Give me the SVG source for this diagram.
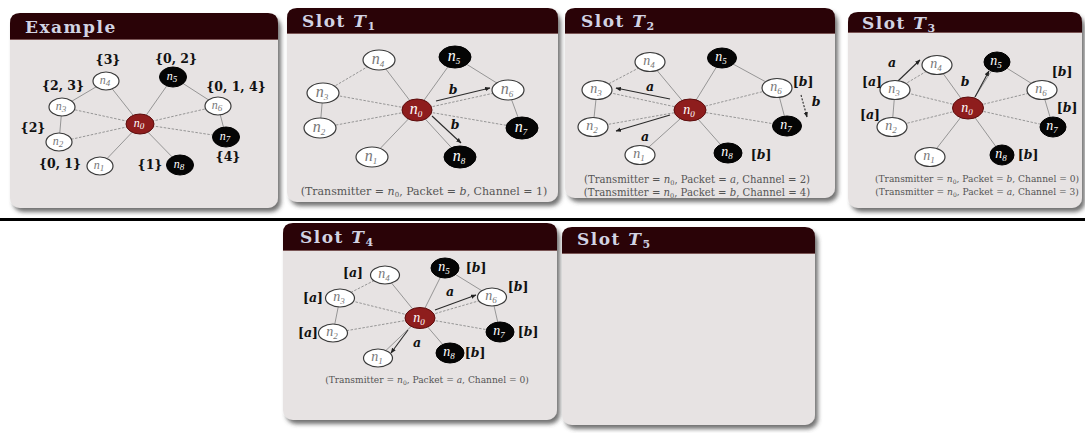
<svg xmlns="http://www.w3.org/2000/svg" width="1085" height="433" viewBox="0 0 1085 433">
<defs>
<filter id="sh" x="-5%" y="-5%" width="115%" height="115%"><feDropShadow dx="3" dy="4" stdDeviation="2" flood-color="#444" flood-opacity="0.75"/></filter>
<marker id="ah" viewBox="0 0 10 10" refX="9" refY="5" markerWidth="5" markerHeight="5" orient="auto"><path d="M0,1 L10,5 L0,9 z" fill="#222"/></marker>
<style>
.body{fill:#e7e3e3}
.hdr{fill:#2a0307}
.hl{stroke:#7a5555;stroke-width:1}
.ttl{font-family:"DejaVu Serif",serif;font-weight:bold;font-size:17px;fill:#d2d3e3;letter-spacing:1.5px}
.w{fill:#fff;stroke:#3a3a3a;stroke-width:1.2}
.k{fill:#050505;stroke:#000;stroke-width:1}
.r{fill:#8e1d1d;stroke:#5c0c0c;stroke-width:1}
.nl{font-family:"Liberation Serif",serif;font-style:italic;font-size:14px;text-anchor:middle;fill:#777}
.nl.s{font-size:12px}
.nl.b{font-size:16px}
.nk{fill:#fff}
.sub{font-size:9px}
.e{stroke:#8c8c8c;stroke-width:0.9;fill:none}
.d{stroke:#8c8c8c;stroke-width:0.9;stroke-dasharray:2.5 1.5;fill:none}
.ar{stroke:#2a2a2a;stroke-width:1.1;fill:none;marker-end:url(#ah)}
.lb{font-family:"DejaVu Serif",serif;font-weight:bold;font-size:12.5px;text-anchor:middle;fill:#111}
.it{font-style:italic}
.cap{font-family:"DejaVu Serif",serif;text-anchor:middle;fill:#555}
.c11{font-size:11px}
.c10{font-size:10.1px}
.c9{font-size:9.1px}
</style>
</defs>
<rect width="1085" height="433" fill="#fff"/>
<rect x="0" y="218" width="1085" height="3" fill="#000"/>

<!-- Example panel -->
<g id="panel-example">
<rect class="body" x="10" y="13" width="268" height="195" rx="10" filter="url(#sh)"/>
<path class="hdr" d="M10,39 V23 Q10,13 20,13 H268 Q278,13 278,23 V39 Z"/>
<line class="hl" x1="10" y1="39.5" x2="278" y2="39.5"/>
<text class="ttl" x="25" y="33">Example</text>
<g id="ex-edges">
<line class="e" x1="140" y1="124" x2="106" y2="81"/>
<line class="d" x1="140" y1="124" x2="62" y2="107"/>
<line class="d" x1="140" y1="124" x2="59" y2="142"/>
<line class="e" x1="140" y1="124" x2="100" y2="166"/>
<line class="e" x1="140" y1="124" x2="180" y2="165"/>
<line class="d" x1="140" y1="124" x2="226" y2="137"/>
<line class="d" x1="140" y1="124" x2="218" y2="106"/>
<line class="e" x1="140" y1="124" x2="173" y2="77"/>
<line class="e" x1="106" y1="81" x2="62" y2="107"/>
<line class="e" x1="62" y1="107" x2="59" y2="142"/>
<line class="e" x1="173" y1="77" x2="218" y2="106"/>
<line class="e" x1="218" y1="106" x2="226" y2="137"/>
</g>
<g id="ex-n0"><ellipse class="r" cx="140" cy="124" rx="14" ry="10"/><text class="nl s nk" x="139" y="127">n<tspan class="sub" dy="2">0</tspan></text></g>
<g id="ex-n1"><ellipse class="w" cx="100" cy="166" rx="13" ry="9"/><text class="nl s" x="99" y="169">n<tspan class="sub" dy="2">1</tspan></text></g>
<g id="ex-n2"><ellipse class="w" cx="59" cy="142" rx="13" ry="9"/><text class="nl s" x="58" y="145">n<tspan class="sub" dy="2">2</tspan></text></g>
<g id="ex-n3"><ellipse class="w" cx="62" cy="107" rx="13" ry="9"/><text class="nl s" x="61" y="110">n<tspan class="sub" dy="2">3</tspan></text></g>
<g id="ex-n4"><ellipse class="w" cx="106" cy="81" rx="13" ry="9"/><text class="nl s" x="105" y="84">n<tspan class="sub" dy="2">4</tspan></text></g>
<g id="ex-n5"><ellipse class="k" cx="173" cy="77" rx="13.5" ry="10"/><text class="nl s nk" x="172" y="80">n<tspan class="sub" dy="2">5</tspan></text></g>
<g id="ex-n6"><ellipse class="w" cx="218" cy="106" rx="13" ry="9"/><text class="nl s" x="217" y="109">n<tspan class="sub" dy="2">6</tspan></text></g>
<g id="ex-n7"><ellipse class="k" cx="226" cy="137" rx="13.5" ry="10"/><text class="nl s nk" x="225" y="140">n<tspan class="sub" dy="2">7</tspan></text></g>
<g id="ex-n8"><ellipse class="k" cx="180" cy="165" rx="13.5" ry="10"/><text class="nl s nk" x="179" y="168">n<tspan class="sub" dy="2">8</tspan></text></g>
<text class="lb" x="108" y="64">{3}</text>
<text class="lb" x="176" y="63">{0, 2}</text>
<text class="lb" x="63" y="90">{2, 3}</text>
<text class="lb" x="236" y="91">{0, 1, 4}</text>
<text class="lb" x="33" y="132">{2}</text>
<text class="lb" x="60" y="168">{0, 1}</text>
<text class="lb" x="150" y="169">{1}</text>
<text class="lb" x="228" y="161">{4}</text>
</g>

<!-- Slot T1 -->
<g id="panel-t1">
<rect class="body" x="287" y="8" width="271" height="194" rx="10" filter="url(#sh)"/>
<path class="hdr" d="M287,33 V18 Q287,8 297,8 H548 Q558,8 558,18 V33 Z"/>
<line class="hl" x1="287" y1="33.5" x2="558" y2="33.5"/>
<text class="ttl" x="302" y="27">Slot <tspan class="it">T</tspan><tspan font-size="11" dy="3">1</tspan></text>
<g id="t1-edges">
<line class="e" x1="417" y1="110" x2="379" y2="60"/>
<line class="d" x1="417" y1="110" x2="323" y2="93"/>
<line class="d" x1="417" y1="110" x2="320" y2="128"/>
<line class="e" x1="417" y1="110" x2="372" y2="157"/>
<line class="e" x1="417" y1="110" x2="460" y2="157"/>
<line class="d" x1="417" y1="110" x2="522" y2="128"/>
<line class="d" x1="417" y1="110" x2="508" y2="90"/>
<line class="e" x1="417" y1="110" x2="455" y2="57"/>
<line class="d" x1="379" y1="60" x2="323" y2="93"/>
<line class="e" x1="323" y1="93" x2="320" y2="128"/>
<line class="e" x1="455" y1="57" x2="508" y2="90"/>
<line class="e" x1="508" y1="90" x2="522" y2="128"/>
<line class="ar" x1="436" y1="101" x2="490" y2="88"/>
<line class="ar" x1="432" y1="116" x2="461" y2="143"/>
</g>
<g id="t1-n0"><ellipse class="r" cx="417" cy="110" rx="15" ry="11"/><text class="nl b nk" x="416" y="114">n<tspan class="sub" dy="3">0</tspan></text></g>
<g id="t1-n1"><ellipse class="w" cx="372" cy="157" rx="16" ry="10"/><text class="nl b" x="371" y="161">n<tspan class="sub" dy="3">1</tspan></text></g>
<g id="t1-n2"><ellipse class="w" cx="320" cy="128" rx="16" ry="10"/><text class="nl b" x="319" y="132">n<tspan class="sub" dy="3">2</tspan></text></g>
<g id="t1-n3"><ellipse class="w" cx="323" cy="93" rx="16" ry="10"/><text class="nl b" x="322" y="97">n<tspan class="sub" dy="3">3</tspan></text></g>
<g id="t1-n4"><ellipse class="w" cx="379" cy="60" rx="16" ry="10"/><text class="nl b" x="378" y="64">n<tspan class="sub" dy="3">4</tspan></text></g>
<g id="t1-n5"><ellipse class="k" cx="455" cy="57" rx="16" ry="11"/><text class="nl b nk" x="454" y="61">n<tspan class="sub" dy="3">5</tspan></text></g>
<g id="t1-n6"><ellipse class="w" cx="508" cy="90" rx="16" ry="10"/><text class="nl b" x="507" y="94">n<tspan class="sub" dy="3">6</tspan></text></g>
<g id="t1-n7"><ellipse class="k" cx="522" cy="128" rx="16" ry="11"/><text class="nl b nk" x="521" y="132">n<tspan class="sub" dy="3">7</tspan></text></g>
<g id="t1-n8"><ellipse class="k" cx="460" cy="157" rx="16" ry="11"/><text class="nl b nk" x="459" y="161">n<tspan class="sub" dy="3">8</tspan></text></g>
<text class="lb it" x="453" y="94">b</text>
<text class="lb it" x="455" y="129">b</text>
<text class="cap c11" x="424" y="195">(Transmitter = <tspan class="it">n</tspan><tspan font-size="7" dy="2">0</tspan><tspan dy="-2">, Packet = </tspan><tspan class="it">b</tspan>, Channel = 1)</text>
</g>

<!-- Slot T2 -->
<g id="panel-t2">
<rect class="body" x="565" y="8" width="270" height="190" rx="10" filter="url(#sh)"/>
<path class="hdr" d="M565,33 V18 Q565,8 575,8 H825 Q835,8 835,18 V33 Z"/>
<line class="hl" x1="565" y1="33.5" x2="835" y2="33.5"/>
<text class="ttl" x="581" y="27">Slot <tspan class="it">T</tspan><tspan font-size="11" dy="3">2</tspan></text>
<g id="t2-edges">
<line class="e" x1="690" y1="110" x2="650" y2="62"/>
<line class="d" x1="690" y1="110" x2="597" y2="90"/>
<line class="d" x1="690" y1="110" x2="593" y2="127"/>
<line class="e" x1="690" y1="110" x2="640" y2="155"/>
<line class="e" x1="690" y1="110" x2="728" y2="153"/>
<line class="d" x1="690" y1="110" x2="787" y2="126"/>
<line class="d" x1="690" y1="110" x2="777" y2="88"/>
<line class="e" x1="690" y1="110" x2="722" y2="58"/>
<line class="d" x1="650" y1="62" x2="597" y2="90"/>
<line class="e" x1="597" y1="90" x2="593" y2="127"/>
<line class="e" x1="722" y1="58" x2="777" y2="88"/>
<line class="e" x1="777" y1="88" x2="787" y2="126"/>
<line class="ar" x1="670" y1="99" x2="616" y2="88"/>
<line class="ar" x1="670" y1="115" x2="616" y2="131"/>
<line class="ar" x1="801" y1="95" x2="807" y2="117" stroke-dasharray="2 1.5"/>
</g>
<g id="t2-n0"><ellipse class="r" cx="690" cy="110" rx="16" ry="11"/><text class="nl nk" x="689" y="114">n<tspan class="sub" dy="3">0</tspan></text></g>
<g id="t2-n1"><ellipse class="w" cx="640" cy="155" rx="15" ry="9.5"/><text class="nl" x="639" y="158">n<tspan class="sub" dy="3">1</tspan></text></g>
<g id="t2-n2"><ellipse class="w" cx="593" cy="127" rx="15" ry="9.5"/><text class="nl" x="592" y="130">n<tspan class="sub" dy="3">2</tspan></text></g>
<g id="t2-n3"><ellipse class="w" cx="597" cy="90" rx="15" ry="9.5"/><text class="nl" x="596" y="93">n<tspan class="sub" dy="3">3</tspan></text></g>
<g id="t2-n4"><ellipse class="w" cx="650" cy="62" rx="15" ry="9.5"/><text class="nl" x="649" y="65">n<tspan class="sub" dy="3">4</tspan></text></g>
<g id="t2-n5"><ellipse class="k" cx="722" cy="58" rx="14.5" ry="10"/><text class="nl nk" x="721" y="61">n<tspan class="sub" dy="3">5</tspan></text></g>
<g id="t2-n6"><ellipse class="w" cx="777" cy="88" rx="15" ry="9.5"/><text class="nl" x="776" y="91">n<tspan class="sub" dy="3">6</tspan></text></g>
<g id="t2-n7"><ellipse class="k" cx="787" cy="126" rx="14.5" ry="10"/><text class="nl nk" x="786" y="129">n<tspan class="sub" dy="3">7</tspan></text></g>
<g id="t2-n8"><ellipse class="k" cx="728" cy="153" rx="14" ry="10"/><text class="nl nk" x="727" y="156">n<tspan class="sub" dy="3">8</tspan></text></g>
<text class="lb it" x="650" y="91">a</text>
<text class="lb it" x="645" y="141">a</text>
<text class="lb" x="803" y="86">[<tspan class="it">b</tspan>]</text>
<text class="lb it" x="816" y="106">b</text>
<text class="lb" x="761" y="159">[<tspan class="it">b</tspan>]</text>
<text class="cap c10" x="697" y="183">(Transmitter = <tspan class="it">n</tspan><tspan font-size="6.5" dy="2">0</tspan><tspan dy="-2">, Packet = </tspan><tspan class="it">a</tspan>, Channel = 2)</text>
<text class="cap c10" x="697" y="196">(Transmitter = <tspan class="it">n</tspan><tspan font-size="6.5" dy="2">0</tspan><tspan dy="-2">, Packet = </tspan><tspan class="it">b</tspan>, Channel = 4)</text>
</g>

<!-- Slot T3 -->
<g id="panel-t3">
<rect class="body" x="848" y="12" width="234" height="196" rx="10" filter="url(#sh)"/>
<path class="hdr" d="M848,32 V22 Q848,12 858,12 H1072 Q1082,12 1082,22 V32 Z"/>
<line class="hl" x1="848" y1="32.5" x2="1082" y2="32.5"/>
<text class="ttl" x="862" y="29">Slot <tspan class="it">T</tspan><tspan font-size="11" dy="3">3</tspan></text>
<g id="t3-edges">
<line class="e" x1="968" y1="108" x2="937" y2="65"/>
<line class="d" x1="968" y1="108" x2="895" y2="90"/>
<line class="d" x1="968" y1="108" x2="892" y2="127"/>
<line class="e" x1="968" y1="108" x2="930" y2="157"/>
<line class="e" x1="968" y1="108" x2="1002" y2="155"/>
<line class="d" x1="968" y1="108" x2="1053" y2="127"/>
<line class="d" x1="968" y1="108" x2="1042" y2="90"/>
<line class="e" x1="968" y1="108" x2="997" y2="62"/>
<line class="d" x1="937" y1="65" x2="895" y2="90"/>
<line class="e" x1="895" y1="90" x2="892" y2="127"/>
<line class="e" x1="997" y1="62" x2="1042" y2="90"/>
<line class="e" x1="1042" y1="90" x2="1053" y2="127"/>
<line class="ar" x1="898" y1="81" x2="920" y2="60"/>
<line class="ar" x1="975" y1="97" x2="989" y2="71"/>
</g>
<g id="t3-n0"><ellipse class="r" cx="968" cy="108" rx="15.5" ry="11"/><text class="nl nk" x="967" y="112">n<tspan class="sub" dy="3">0</tspan></text></g>
<g id="t3-n1"><ellipse class="w" cx="930" cy="157" rx="15" ry="9.5"/><text class="nl" x="929" y="160">n<tspan class="sub" dy="3">1</tspan></text></g>
<g id="t3-n2"><ellipse class="w" cx="892" cy="127" rx="15" ry="9.5"/><text class="nl" x="891" y="130">n<tspan class="sub" dy="3">2</tspan></text></g>
<g id="t3-n3"><ellipse class="w" cx="895" cy="90" rx="15" ry="9.5"/><text class="nl" x="894" y="93">n<tspan class="sub" dy="3">3</tspan></text></g>
<g id="t3-n4"><ellipse class="w" cx="937" cy="65" rx="15" ry="9.5"/><text class="nl" x="936" y="68">n<tspan class="sub" dy="3">4</tspan></text></g>
<g id="t3-n5"><ellipse class="k" cx="997" cy="62" rx="13" ry="10"/><text class="nl nk" x="996" y="65">n<tspan class="sub" dy="3">5</tspan></text></g>
<g id="t3-n6"><ellipse class="w" cx="1042" cy="90" rx="15" ry="9.5"/><text class="nl" x="1041" y="93">n<tspan class="sub" dy="3">6</tspan></text></g>
<g id="t3-n7"><ellipse class="k" cx="1053" cy="127" rx="13" ry="10"/><text class="nl nk" x="1052" y="130">n<tspan class="sub" dy="3">7</tspan></text></g>
<g id="t3-n8"><ellipse class="k" cx="1002" cy="155" rx="12" ry="10"/><text class="nl nk" x="1001" y="158">n<tspan class="sub" dy="3">8</tspan></text></g>
<text class="lb it" x="892" y="67">a</text>
<text class="lb" x="872" y="86">[<tspan class="it">a</tspan>]</text>
<text class="lb" x="870" y="119">[<tspan class="it">a</tspan>]</text>
<text class="lb it" x="965" y="86">b</text>
<text class="lb" x="1062" y="76">[<tspan class="it">b</tspan>]</text>
<text class="lb" x="1067" y="112">[<tspan class="it">b</tspan>]</text>
<text class="lb" x="1028" y="159">[<tspan class="it">b</tspan>]</text>
<text class="cap c9" x="977" y="182">(Transmitter = <tspan class="it">n</tspan><tspan font-size="6" dy="2">0</tspan><tspan dy="-2">, Packet = </tspan><tspan class="it">b</tspan>, Channel = 0)</text>
<text class="cap c9" x="977" y="195">(Transmitter = <tspan class="it">n</tspan><tspan font-size="6" dy="2">0</tspan><tspan dy="-2">, Packet = </tspan><tspan class="it">a</tspan>, Channel = 3)</text>
</g>

<!-- Slot T4 -->
<g id="panel-t4">
<rect class="body" x="283" y="223" width="274" height="197" rx="10" filter="url(#sh)"/>
<path class="hdr" d="M283,250 V233 Q283,223 293,223 H547 Q557,223 557,233 V250 Z"/>
<line class="hl" x1="283" y1="250.5" x2="557" y2="250.5"/>
<text class="ttl" x="300" y="243">Slot <tspan class="it">T</tspan><tspan font-size="11" dy="3">4</tspan></text>
<g id="t4-edges">
<line class="e" x1="420" y1="318" x2="385" y2="275"/>
<line class="d" x1="420" y1="318" x2="340" y2="298"/>
<line class="d" x1="420" y1="318" x2="333" y2="333"/>
<line class="e" x1="420" y1="318" x2="378" y2="358"/>
<line class="e" x1="420" y1="318" x2="450" y2="353"/>
<line class="d" x1="420" y1="318" x2="500" y2="332"/>
<line class="d" x1="420" y1="318" x2="492" y2="297"/>
<line class="e" x1="420" y1="318" x2="445" y2="268"/>
<line class="d" x1="385" y1="275" x2="340" y2="298"/>
<line class="e" x1="340" y1="298" x2="333" y2="333"/>
<line class="e" x1="445" y1="268" x2="492" y2="297"/>
<line class="e" x1="492" y1="297" x2="500" y2="332"/>
<line class="ar" x1="435" y1="310" x2="476" y2="295"/>
<line class="ar" x1="408" y1="330" x2="391" y2="353"/>
</g>
<g id="t4-n0"><ellipse class="r" cx="420" cy="318" rx="15" ry="10.5"/><text class="nl nk" x="419" y="322">n<tspan class="sub" dy="3">0</tspan></text></g>
<g id="t4-n1"><ellipse class="w" cx="378" cy="358" rx="14.5" ry="9"/><text class="nl" x="377" y="361">n<tspan class="sub" dy="3">1</tspan></text></g>
<g id="t4-n2"><ellipse class="w" cx="333" cy="333" rx="14.5" ry="9"/><text class="nl" x="332" y="336">n<tspan class="sub" dy="3">2</tspan></text></g>
<g id="t4-n3"><ellipse class="w" cx="340" cy="298" rx="14.5" ry="9"/><text class="nl" x="339" y="301">n<tspan class="sub" dy="3">3</tspan></text></g>
<g id="t4-n4"><ellipse class="w" cx="385" cy="275" rx="14.5" ry="9"/><text class="nl" x="384" y="278">n<tspan class="sub" dy="3">4</tspan></text></g>
<g id="t4-n5"><ellipse class="k" cx="445" cy="268" rx="14" ry="10"/><text class="nl nk" x="444" y="271">n<tspan class="sub" dy="3">5</tspan></text></g>
<g id="t4-n6"><ellipse class="w" cx="492" cy="297" rx="14.5" ry="9"/><text class="nl" x="491" y="300">n<tspan class="sub" dy="3">6</tspan></text></g>
<g id="t4-n7"><ellipse class="k" cx="500" cy="332" rx="14" ry="10"/><text class="nl nk" x="499" y="335">n<tspan class="sub" dy="3">7</tspan></text></g>
<g id="t4-n8"><ellipse class="k" cx="450" cy="353" rx="14" ry="10"/><text class="nl nk" x="449" y="356">n<tspan class="sub" dy="3">8</tspan></text></g>
<text class="lb" x="353" y="277">[<tspan class="it">a</tspan>]</text>
<text class="lb" x="313" y="302">[<tspan class="it">a</tspan>]</text>
<text class="lb" x="308" y="337">[<tspan class="it">a</tspan>]</text>
<text class="lb" x="476" y="272">[<tspan class="it">b</tspan>]</text>
<text class="lb" x="518" y="291">[<tspan class="it">b</tspan>]</text>
<text class="lb" x="528" y="336">[<tspan class="it">b</tspan>]</text>
<text class="lb" x="475" y="357">[<tspan class="it">b</tspan>]</text>
<text class="lb it" x="450" y="296">a</text>
<text class="lb it" x="417" y="347">a</text>
<text class="cap c9" x="427" y="383">(Transmitter = <tspan class="it">n</tspan><tspan font-size="6" dy="2">0</tspan><tspan dy="-2">, Packet = </tspan><tspan class="it">a</tspan>, Channel = 0)</text>
</g>

<!-- Slot T5 -->
<g id="panel-t5">
<rect class="body" x="562" y="227" width="253" height="198" rx="10" filter="url(#sh)"/>
<path class="hdr" d="M562,253 V237 Q562,227 572,227 H805 Q815,227 815,237 V253 Z"/>
<line class="hl" x1="562" y1="253.5" x2="815" y2="253.5"/>
<text class="ttl" x="577" y="245">Slot <tspan class="it">T</tspan><tspan font-size="11" dy="3">5</tspan></text>
</g>
</svg>
